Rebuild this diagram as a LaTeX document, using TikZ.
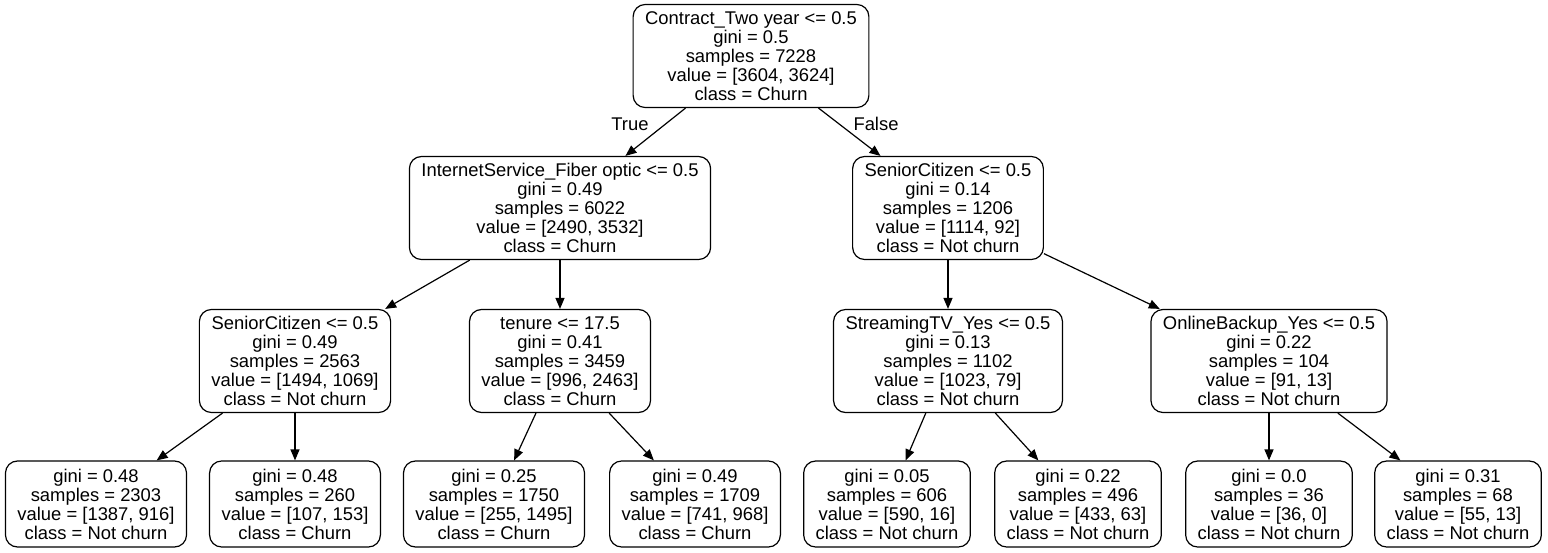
\documentclass[tikz,border=0pt]{standalone}
\usepackage{fontspec}
\setmainfont{Liberation Sans}
\usetikzlibrary{arrows.meta}
\tikzset{
  splitnode/.style={draw,line width=0.6pt,rounded corners=6pt,align=center,
    font=\fontsize{9.2}{9.5}\selectfont,inner xsep=6pt,inner ysep=2pt,minimum height=51.5pt},
  leafnode/.style={splitnode,minimum height=43pt},
  branch/.style={line width=0.6pt,-{Triangle[length=5.5pt,width=4.5pt]}},
  edgelabel/.style={font=\fontsize{9.2}{9.5}\selectfont,inner sep=0pt}
}
\begin{document}
\begin{tikzpicture}[x=0.5pt,y=-0.5pt]
\useasboundingbox (0,0) rectangle (1548,552);
%
% Wurzel
\node[splitnode] (root) at (751,56) {Contract\_Two year <= 0.5\\gini = 0.5\\samples = 7228\\value = [3604, 3624]\\class = Churn};
%
% Ebene 1
\node[splitnode] (fiber) at (560,208) {InternetService\_Fiber optic <= 0.5\\gini = 0.49\\samples = 6022\\value = [2490, 3532]\\class = Churn};
\node[splitnode] (seniorR) at (948,208) {SeniorCitizen <= 0.5\\gini = 0.14\\samples = 1206\\value = [1114, 92]\\class = Not churn};
%
% Ebene 2
\node[splitnode] (seniorL) at (295,361) {SeniorCitizen <= 0.5\\gini = 0.49\\samples = 2563\\value = [1494, 1069]\\class = Not churn};
\node[splitnode] (tenure) at (560,361) {tenure <= 17.5\\gini = 0.41\\samples = 3459\\value = [996, 2463]\\class = Churn};
\node[splitnode] (stream) at (948,361) {StreamingTV\_Yes <= 0.5\\gini = 0.13\\samples = 1102\\value = [1023, 79]\\class = Not churn};
\node[splitnode] (backup) at (1269,361) {OnlineBackup\_Yes <= 0.5\\gini = 0.22\\samples = 104\\value = [91, 13]\\class = Not churn};
%
% Blaetter
\node[leafnode] (leafA) at (96,504) {gini = 0.48\\samples = 2303\\value = [1387, 916]\\class = Not churn};
\node[leafnode] (leafB) at (295,504) {gini = 0.48\\samples = 260\\value = [107, 153]\\class = Churn};
\node[leafnode] (leafC) at (494,504) {gini = 0.25\\samples = 1750\\value = [255, 1495]\\class = Churn};
\node[leafnode] (leafD) at (695,504) {gini = 0.49\\samples = 1709\\value = [741, 968]\\class = Churn};
\node[leafnode] (leafE) at (887,504) {gini = 0.05\\samples = 606\\value = [590, 16]\\class = Not churn};
\node[leafnode] (leafF) at (1078,504) {gini = 0.22\\samples = 496\\value = [433, 63]\\class = Not churn};
\node[leafnode] (leafG) at (1269,504) {gini = 0.0\\samples = 36\\value = [36, 0]\\class = Not churn};
\node[leafnode] (leafH) at (1458,504) {gini = 0.31\\samples = 68\\value = [55, 13]\\class = Not churn};
%
% Kanten
\draw[branch] (root) -- (fiber);
\draw[branch] (root) -- (seniorR);
\node[edgelabel] (trueLab) at (630,124) {True};
\node[edgelabel] (falseLab) at (876,124) {False};
\draw[branch] (fiber) -- (seniorL);
\draw[branch] (fiber) -- (tenure);
\draw[branch] (seniorR) -- (stream);
\draw[branch] (seniorR) -- (backup);
\draw[branch] (seniorL) -- (leafA);
\draw[branch] (seniorL) -- (leafB);
\draw[branch] (tenure) -- (leafC);
\draw[branch] (tenure) -- (leafD);
\draw[branch] (stream) -- (leafE);
\draw[branch] (stream) -- (leafF);
\draw[branch] (backup) -- (leafG);
\draw[branch] (backup) -- (leafH);
\end{tikzpicture}
\end{document}
